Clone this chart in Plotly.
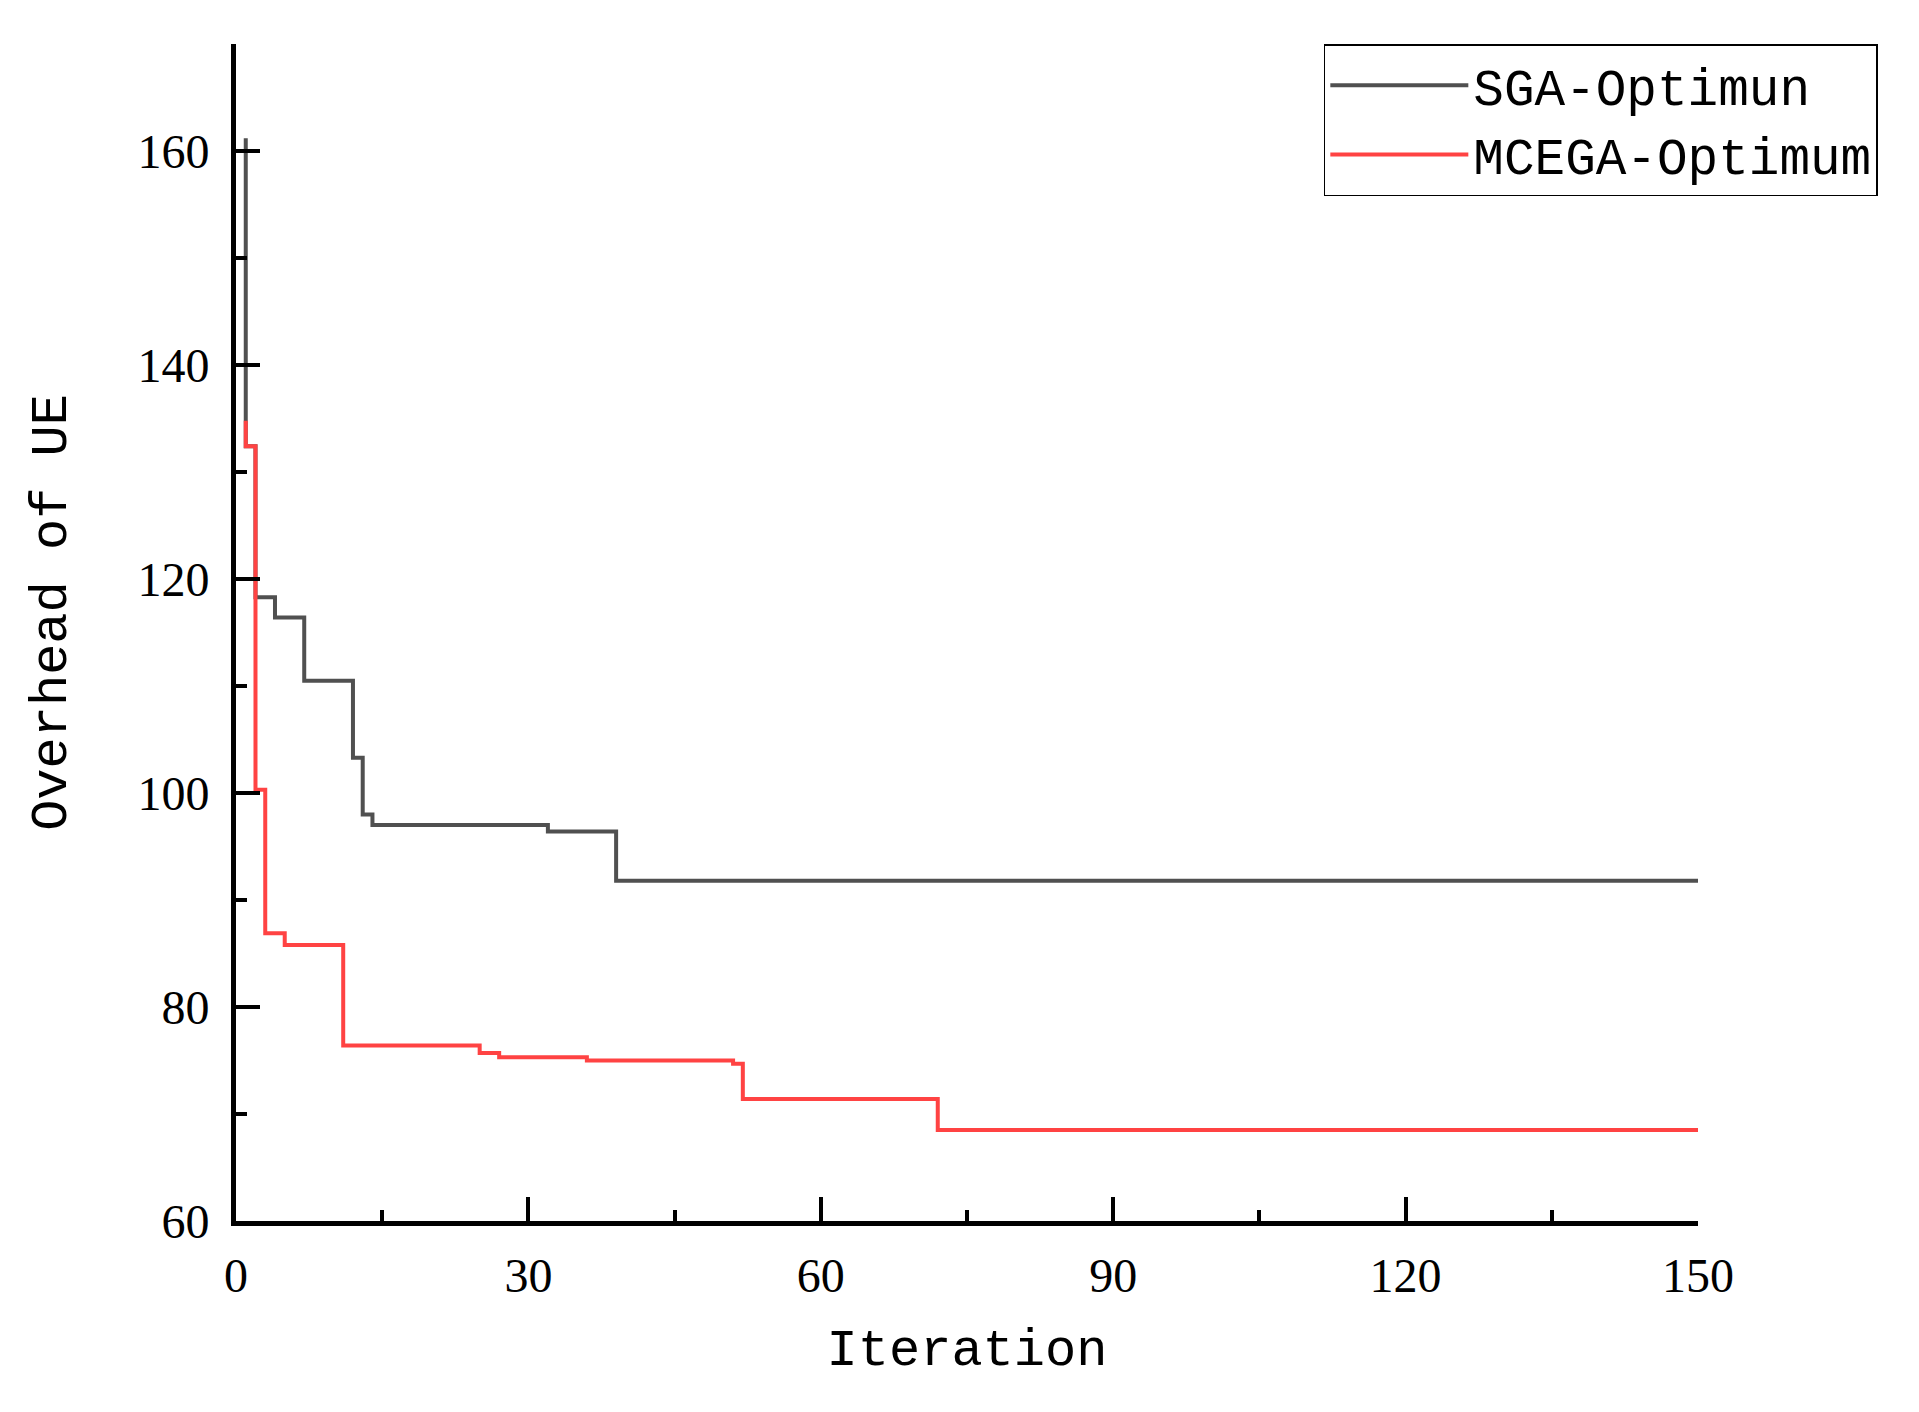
import plotly.graph_objects as go

# step points (iteration, best overhead)
sga_iter = [1, 1, 2, 4, 7, 12, 13, 14, 32, 39, 150]
sga_val = [161.2, 132.4, 118.3, 116.4, 110.5, 103.3, 98.0, 97.0, 96.4, 91.8, 91.8]

mcega_iter = [1, 1, 2, 3, 5, 11, 25, 27, 36, 51, 52, 72, 150]
mcega_val = [134.8, 132.4, 100.3, 86.9, 85.8, 76.4, 75.7, 75.3, 75.0, 74.7, 71.4, 68.5, 68.5]

x_ticks = [0, 30, 60, 90, 120, 150]
y_ticks = [60, 80, 100, 120, 140, 160]

title_font = dict(family='Liberation Mono', size=52, color='black')
legend_font = dict(family='Liberation Mono', size=51, color='black')
tick_font = dict(family='Liberation Serif', size=48, color='black')

data = [
    go.Scatter(x=sga_iter, y=sga_val, mode='lines', name='SGA-Optimun',
               line=dict(color='#505050', width=4, shape='hv')),
    go.Scatter(x=mcega_iter, y=mcega_val, mode='lines', name='MCEGA-Optimum',
               line=dict(color='#FF4343', width=4, shape='hv')),
]

axis_common = dict(
    showline=True, linecolor='black', linewidth=5, mirror=False,
    showgrid=False, zeroline=False, automargin=False,
    ticks='inside', ticklen=24, tickwidth=4, tickcolor='black',
    tickfont=tick_font,
)

layout = go.Layout(
    paper_bgcolor='white', plot_bgcolor='white',
    margin=dict(l=228, r=213, t=36, b=183, autoexpand=False),
    xaxis=dict(axis_common, range=[0, 150], tickvals=x_ticks,
               minor=dict(dtick=15, ticks='inside', ticklen=11, tickwidth=4, tickcolor='black'),
               ticklabelstandoff=8,
               title=dict(text='Iteration', font=title_font, standoff=30)),
    yaxis=dict(axis_common, range=[60, 170], tickvals=y_ticks,
               minor=dict(dtick=10, ticks='inside', ticklen=11, tickwidth=4, tickcolor='black'),
               ticklabelstandoff=12),
    annotations=[dict(text='Overhead of UE', textangle=-90, font=title_font,
                      xref='paper', yref='paper', x=-0.1256, y=0.517,
                      xanchor='center', yanchor='middle', showarrow=False)],
    legend=dict(x=1.123, y=1.0, xanchor='right', yanchor='top',
                bgcolor='white', bordercolor='black', borderwidth=1.5,
                font=legend_font, itemwidth=138, tracegroupgap=0),
    showlegend=True,
)

fig = go.Figure(data=data, layout=layout)
fig.write_html('out.html')
